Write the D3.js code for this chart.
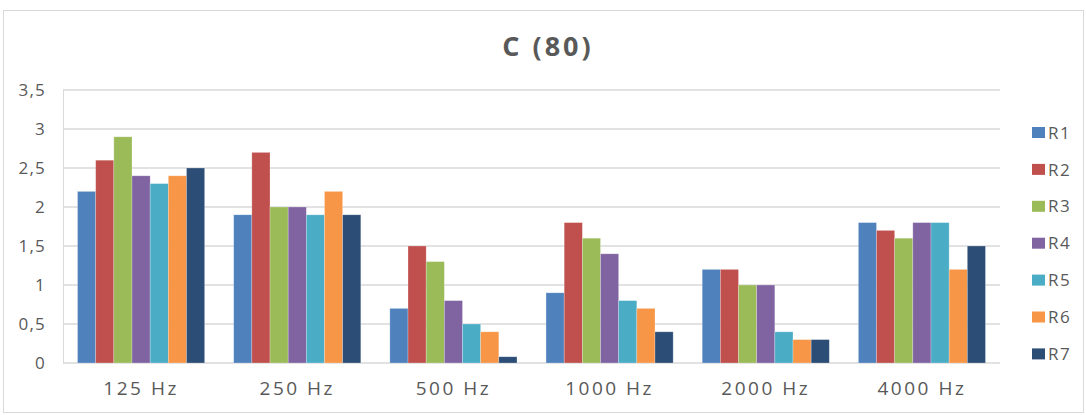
<!doctype html>
<html>
<head>
<script src="https://cdnjs.cloudflare.com/ajax/libs/d3/7.8.5/d3.min.js"></script>
<style>
  body { margin: 0; background: #fff; }
  text { font-family: "Open Sans", "Liberation Sans", sans-serif; fill: #595959; }
</style>
</head>
<body>
<svg id="chart" width="1086" height="415"></svg>
<script>
const categories = ["125 Hz", "250 Hz", "500 Hz", "1000 Hz", "2000 Hz", "4000 Hz"];
const seriesNames = ["R1", "R2", "R3", "R4", "R5", "R6", "R7"];
const R1 = [2.2, 1.9, 0.7, 0.9, 1.2, 1.8];
const R2 = [2.6, 2.7, 1.5, 1.8, 1.2, 1.7];
const R3 = [2.9, 2.0, 1.3, 1.6, 1.0, 1.6];
const R4 = [2.4, 2.0, 0.8, 1.4, 1.0, 1.8];
const R5 = [2.3, 1.9, 0.5, 0.8, 0.4, 1.8];
const R6 = [2.4, 2.2, 0.4, 0.7, 0.3, 1.2];
const R7 = [2.5, 1.9, 0.08, 0.4, 0.3, 1.5];
const yTicks = [0, 0.5, 1, 1.5, 2, 2.5, 3, 3.5];
const colors = ["#4f81bd", "#c0504d", "#9bbb59", "#8064a2", "#4bacc6", "#f79646", "#2c4d75"];

const series = [R1, R2, R3, R4, R5, R6, R7];
const svg = d3.select("#chart");

// chart frame
svg.append("rect")
  .attr("x", 3.5).attr("y", 10.5)
  .attr("width", 1080).attr("height", 402)
  .attr("fill", "#fff").attr("stroke", "#d9d9d9");

svg.append("text")
  .attr("x", 548).attr("y", 56)
  .attr("text-anchor", "middle")
  .style("font-size", "27px").style("font-weight", "bold")
  .style("letter-spacing", "3px")
  .text("C (80)");

const x0 = d3.scaleBand().domain(categories).range([63, 1000])
  .paddingInner(0.186).paddingOuter(0.093);
const x1 = d3.scaleBand().domain(seriesNames).range([0, x0.bandwidth()]);
const y = d3.scaleLinear().domain([0, 3.5]).range([363, 90]);

// gridlines
svg.append("g").selectAll("line").data(yTicks).join("line")
  .attr("x1", 63).attr("x2", 1000)
  .attr("y1", d => y(d)).attr("y2", d => y(d))
  .attr("stroke", "#d9d9d9").attr("stroke-width", 1.3);

svg.append("line")
  .attr("x1", 63.5).attr("x2", 63.5).attr("y1", y(3.5)).attr("y2", y(0))
  .attr("stroke", "#d9d9d9");

const yAxis = d3.axisLeft(y).tickValues(yTicks).tickSize(0).tickPadding(17)
  .tickFormat(d => String(d).replace(".", ","));
const yg = svg.append("g").attr("transform", "translate(63,0)").call(yAxis);
yg.select(".domain").remove();
yg.selectAll("text").style("font-size", "17px").style("letter-spacing", "1.2px")
  .style("fill", "#595959").style("font-family", "'Open Sans', sans-serif");

// bars
const groups = svg.append("g").selectAll("g").data(categories).join("g")
  .attr("transform", d => `translate(${x0(d)},0)`);
groups.selectAll("rect")
  .data((c, i) => seriesNames.map((s, j) => ({ s, v: series[j][i], c: colors[j] })))
  .join("rect")
  .attr("x", d => x1(d.s))
  .attr("width", x1.bandwidth())
  .attr("y", d => y(d.v))
  .attr("height", d => y(0) - y(d.v))
  .attr("fill", d => d.c)
  .attr("stroke", "#ffffff").attr("stroke-opacity", 0.35).attr("stroke-width", 0.7);

// x axis labels
const xAxis = d3.axisBottom(x0).tickSize(0).tickPadding(19);
const xg = svg.append("g").attr("transform", `translate(0,${y(0)})`).call(xAxis);
xg.select(".domain").remove();
xg.selectAll("text").style("font-size", "19px").style("letter-spacing", "2.5px")
  .style("fill", "#595959").style("font-family", "'Open Sans', sans-serif");

// legend
const legend = svg.append("g").selectAll("g").data(seriesNames).join("g")
  .attr("transform", (d, i) => `translate(1032,${132.5 + i * 36.9})`);
legend.append("rect")
  .attr("x", 0).attr("y", -5.5).attr("width", 13).attr("height", 11)
  .attr("fill", (d, i) => colors[i]);
legend.append("text")
  .attr("x", 16).attr("y", 0).attr("dy", "0.36em")
  .style("font-size", "17px").style("letter-spacing", "1.5px")
  .text(d => d);
</script>
</body>
</html>
